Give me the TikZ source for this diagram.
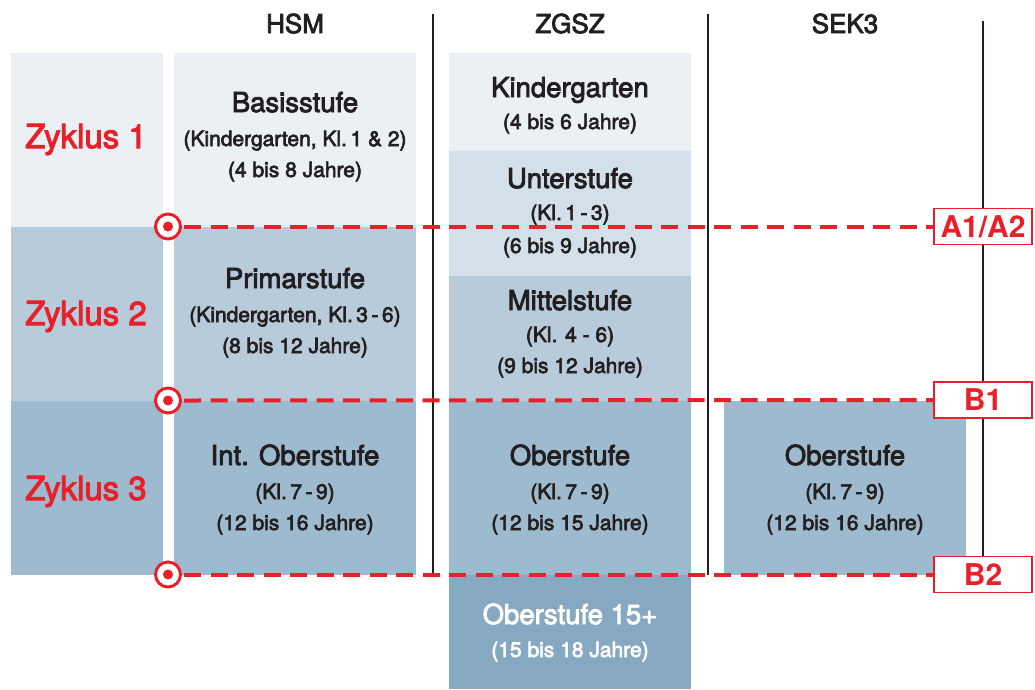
\documentclass[tikz,border=0pt]{standalone}
\usepackage{fontspec}
\setmainfont{TeX Gyre Heros}
\newfontfamily\medf[FakeBold=3]{TeX Gyre Heros}
\definecolor{ink}{HTML}{231F20}
\definecolor{zred}{HTML}{E8202A}
\definecolor{cA}{HTML}{EBF0F5}
\definecolor{cB}{HTML}{D3DFE9}
\definecolor{cC}{HTML}{B7CBDB}
\definecolor{cD}{HTML}{9EBACE}
\definecolor{cE}{HTML}{87A8C1}
\tikzset{
  box/.style={draw=none, inner sep=0pt, outer sep=0pt, anchor=north west},
  ttl/.style={anchor=base, inner sep=0pt, text=ink, font=\medf\fontsize{27.5}{30}\selectfont},
  subt/.style={anchor=base, inner sep=0pt, text=ink, font=\medf\fontsize{21}{24}\selectfont},
  hdr/.style={anchor=base, inner sep=0pt, text=ink, font=\medf\fontsize{26}{30}\selectfont},
  zyk/.style={anchor=base, inner sep=0pt, text=zred, font=\medf\fontsize{33}{36}\selectfont},
  vline/.style={draw=ink, line width=1.8pt},
  redline/.style={draw=zred, line width=4pt, dash pattern=on 17pt off 9.5pt, shorten <=2pt},
  ring/.style={circle, draw=zred, line width=3pt, fill=white, minimum size=25pt, inner sep=0pt},
  lab/.style={draw=zred, line width=1.2pt, fill=white, text=zred, minimum width=98pt,
    minimum height=36pt, inner sep=0pt, text height=21pt, text depth=0pt,
    font=\bfseries\fontsize{30}{34}\selectfont},
}
\begin{document}
\begin{tikzpicture}[x=1pt,y=-1pt]
\useasboundingbox (0,0) rectangle (1035,689);
% boxes
\node[box, fill=cA, minimum width=152pt, minimum height=174pt] (z1box) at (11,53) {};
\node[box, fill=cC, minimum width=152pt, minimum height=174pt] (z2box) at (11,227) {};
\node[box, fill=cD, minimum width=152pt, minimum height=174pt] (z3box) at (11,401) {};
\node[box, fill=cA, minimum width=242pt, minimum height=174pt] (hbox1) at (174,53) {};
\node[box, fill=cC, minimum width=242pt, minimum height=174pt] (hbox2) at (174,227) {};
\node[box, fill=cD, minimum width=242pt, minimum height=174pt] (hbox3) at (174,401) {};
\node[box, fill=cA, minimum width=242pt, minimum height=98pt] (gbox1) at (449,53) {};
\node[box, fill=cB, minimum width=242pt, minimum height=125pt] (gbox2) at (449,151) {};
\node[box, fill=cC, minimum width=242pt, minimum height=125pt] (gbox3) at (449,276) {};
\node[box, fill=cD, minimum width=242pt, minimum height=174pt] (gbox4) at (449,401) {};
\node[box, fill=cE, minimum width=242pt, minimum height=114pt] (gbox5) at (449,575) {};
\node[box, fill=cD, minimum width=242pt, minimum height=174pt] (sbox) at (724,401) {};
% vertical dividers
\coordinate (v1t) at (433,14); \coordinate (v1b) at (433,575);
\coordinate (v2t) at (708,14); \coordinate (v2b) at (708,575);
\coordinate (v3t) at (983,21); \coordinate (v3b) at (983,575);
\draw[vline] (v1t) -- (v1b);
\draw[vline] (v2t) -- (v2b);
\draw[vline] (v3t) -- (v3b);
% markers and labels
\node[ring] (r1) at (168,226.5) {};
\node[ring] (r2) at (168,400.5) {};
\node[ring] (r3) at (168,574.5) {};
\node[lab] (la) at (983,226.5) {A1/A2};
\node[lab] (lb1) at (983,400) {B1};
\node[lab] (lb2) at (983,574.5) {B2};
\draw[redline] (r1.east) -- (la.west);
\draw[redline] (r2.east) -- (lb1.west);
\draw[redline] (r3.east) -- (lb2.west);
\fill[zred] (r1.center) circle (5pt);
\fill[zred] (r2.center) circle (5pt);
\fill[zred] (r3.center) circle (5pt);
% headers
\node[hdr] (hHSM) at (295,33) {HSM};
\node[hdr] (hZGSZ) at (570,33) {ZGSZ};
\node[hdr] (hSEK) at (845,33) {SEK3};
% Zyklus
\node[zyk] (tz1) at (86,148) {Zyklus 1};
\node[zyk] (tz2) at (86,325) {Zyklus 2};
\node[zyk] (tz3) at (86,500) {Zyklus 3};
% HSM texts
\node[ttl] (th1) at (295,112) {Basisstufe};
\node[subt] (th1a) at (295,146) {(Kindergarten, Kl.\,1 \& 2)};
\node[subt] (th1b) at (295,177) {(4 bis 8 Jahre)};
\node[ttl] (th2) at (295,288) {Primarstufe};
\node[subt] (th2a) at (295,322) {(Kindergarten, Kl.\,3\,-\,6)};
\node[subt] (th2b) at (295,353) {(8 bis 12 Jahre)};
\node[ttl] (th3) at (295,465) {Int. Oberstufe};
\node[subt] (th3a) at (295,499) {(Kl.\,7\,-\,9)};
\node[subt] (th3b) at (295,530) {(12 bis 16 Jahre)};
% ZGSZ texts
\node[ttl] (tg1) at (570,97) {Kindergarten};
\node[subt] (tg1a) at (570,129) {(4 bis 6 Jahre)};
\node[ttl] (tg2) at (570,188) {Unterstufe};
\node[subt] (tg2a) at (570,220) {(Kl.\,1\,-\,3)};
\node[subt] (tg2b) at (570,253) {(6 bis 9 Jahre)};
\node[ttl] (tg3) at (570,310) {Mittelstufe};
\node[subt] (tg3a) at (570,342) {(Kl. 4 - 6)};
\node[subt] (tg3b) at (570,373) {(9 bis 12 Jahre)};
\node[ttl] (tg4) at (570,465) {Oberstufe};
\node[subt] (tg4a) at (570,499) {(Kl.\,7\,-\,9)};
\node[subt] (tg4b) at (570,530) {(12 bis 15 Jahre)};
\node[ttl, text=white] (tg5) at (570,624) {Oberstufe 15+};
\node[subt, text=white] (tg5a) at (570,657) {(15 bis 18 Jahre)};
% SEK3 texts
\node[ttl] (ts1) at (845,465) {Oberstufe};
\node[subt] (ts1a) at (845,499) {(Kl.\,7\,-\,9)};
\node[subt] (ts1b) at (845,530) {(12 bis 16 Jahre)};
\end{tikzpicture}
\end{document}
